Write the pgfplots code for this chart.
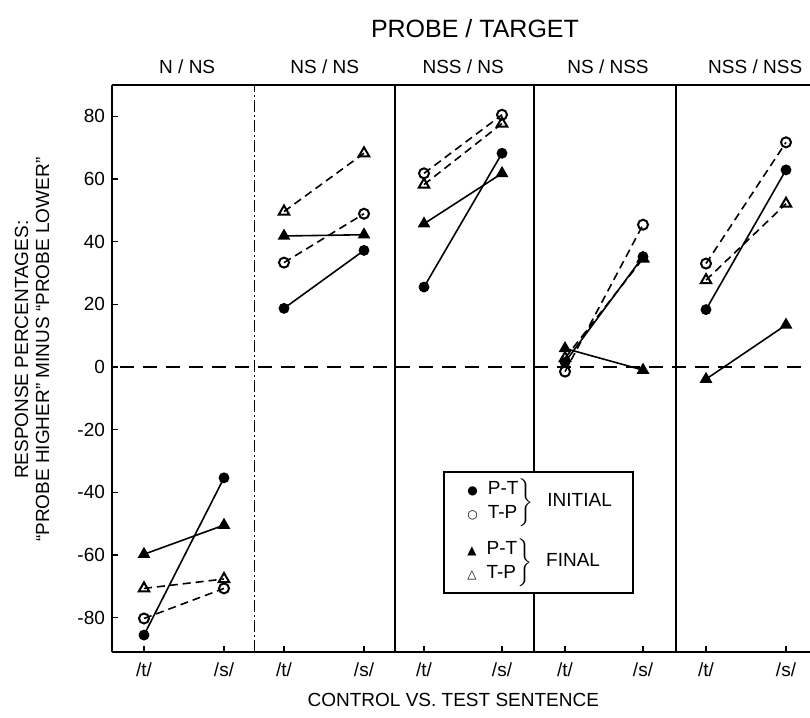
\documentclass[border=0pt]{standalone}
\usepackage{fontspec}
\setmainfont{Liberation Sans}
\newfontfamily\symfont{DejaVu Sans}
\usepackage{pgfplots}
\pgfplotsset{compat=1.18}

% one brace group of the legend
\newcommand{\leggroup}[3]{%
  $\left.\begin{tabular}{@{}l@{\hspace{5pt}}l@{}}{\symfont\fontsize{6}{7}\selectfont #1}&P-T\\[1pt]{\symfont\fontsize{6}{7}\selectfont #2}&T-P\end{tabular}\right\}$\hspace{7pt}#3}

\begin{document}
\begin{tikzpicture}
\begin{axis}[
  name=ax,
  scale only axis,
  width=349pt, height=283.5pt,
  xmin=-0.4, xmax=8.325,
  ymin=-91, ymax=90,
  axis x line=box, axis y line=left,
  axis line style={-, line width=0.9pt},
  clip=false,
  unbounded coords=jump,
  tick align=inside,
  xtick pos=left, ytick pos=left,
  major tick length=3pt,
  tick style={line width=0.7pt, black},
  xtick={0,1,1.75,2.75,3.5,4.475,5.2625,6.2375,7.025,8.025},
  xticklabels={/t/,/s/,/t/,/s/,/t/,/s/,/t/,/s/,/t/,/s/},
  ytick={-80,-60,-40,-20,0,20,40,60,80},
  yticklabels={-80,-60,-40,-20,0,20,40,60,80},
  ticklabel style={font=\fontsize{9.5}{10}\selectfont},
  xticklabel style={yshift=-2pt},
  title={PROBE / TARGET},
  title style={at={(0.52,1)}, anchor=center, yshift=22pt, font=\fontsize{12.5}{14}\selectfont},
  xlabel={CONTROL VS. TEST SENTENCE},
  xlabel style={at={(0.489,0)}, anchor=center, yshift=-24pt, font=\fontsize{9.5}{11}\selectfont},
  ylabel={RESPONSE PERCENTAGES:\\``PROBE HIGHER'' MINUS ``PROBE LOWER''},
  ylabel style={at={(-0.1146,0.533)}, anchor=center, align=center, font=\fontsize{9.5}{10.5}\selectfont},
]

% panel separators and zero line
\draw[line width=0.5pt, dash pattern=on 6pt off 1.5pt on 1pt off 1.5pt] (axis cs:1.375,-91) -- (axis cs:1.375,90);
\draw[line width=0.8pt] (axis cs:3.1375,-91) -- (axis cs:3.1375,90);
\draw[line width=0.8pt] (axis cs:4.875,-91) -- (axis cs:4.875,90);
\draw[line width=0.8pt] (axis cs:6.65,-91) -- (axis cs:6.65,90);
\draw[line width=0.9pt, dash pattern=on 7pt off 4.5pt] (axis cs:-0.3,0) -- (axis cs:8.325,0);

% P-T initial
\addplot[black, line width=0.8pt, mark=*, mark size=2.3pt] coordinates {
  (0,-85.6) (1,-35.4) (1.375,nan)
  (1.75,18.7) (2.75,37.2) (3.1375,nan)
  (3.5,25.5) (4.475,68.2) (4.875,nan)
  (5.2625,1.5) (6.2375,35.2) (6.65,nan)
  (7.025,18.3) (8.025,62.9)
};
% T-P initial
\addplot[black, line width=0.8pt, dash pattern=on 4pt off 2.5pt, mark=o, mark size=2.5pt,
  mark options={solid, fill=white, line width=1pt}] coordinates {
  (0,-80.3) (1,-70.7) (1.375,nan)
  (1.75,33.3) (2.75,48.9) (3.1375,nan)
  (3.5,61.8) (4.475,80.5) (4.875,nan)
  (5.2625,-1.5) (6.2375,45.4) (6.65,nan)
  (7.025,33.0) (8.025,71.7)
};
% P-T final
\addplot[black, line width=0.8pt, mark=triangle*, mark size=2.9pt] coordinates {
  (0,-59.8) (1,-50.5) (1.375,nan)
  (1.75,41.8) (2.75,42.2) (3.1375,nan)
  (3.5,45.7) (4.475,61.8) (4.875,nan)
  (5.2625,5.9) (6.2375,-1.0) (6.65,nan)
  (7.025,-3.9) (8.025,13.4)
};
% T-P final
\addplot[black, line width=0.8pt, dash pattern=on 4pt off 2.5pt, mark=triangle, mark size=3pt,
  mark options={solid, fill=white, line width=1pt}] coordinates {
  (0,-70.7) (1,-67.7) (1.375,nan)
  (1.75,49.6) (2.75,68.2) (3.1375,nan)
  (3.5,58.2) (4.475,77.7) (4.875,nan)
  (5.2625,2.8) (6.2375,34.6) (6.65,nan)
  (7.025,27.7) (8.025,52.1)
};

% panel headings
\node[font=\fontsize{9.5}{11}\selectfont] at (axis cs:0.54,90) [yshift=9pt] {N / NS};
\node[font=\fontsize{9.5}{11}\selectfont] at (axis cs:2.26,90) [yshift=9pt] {NS / NS};
\node[font=\fontsize{9.5}{11}\selectfont] at (axis cs:3.99,90) [yshift=9pt] {NSS / NS};
\node[font=\fontsize{9.5}{11}\selectfont] at (axis cs:5.8,90) [yshift=9pt] {NS / NSS};
\node[font=\fontsize{9.5}{11}\selectfont] at (axis cs:7.64,90) [yshift=9pt] {NSS / NSS};

% legend
\node[draw, fill=white, line width=0.9pt, minimum width=94.5pt, minimum height=60.5pt,
  font=\fontsize{9.5}{11}\selectfont, align=left] at (axis cs:4.93,-52.8) {%
  \leggroup{●}{○}{INITIAL}\\[5pt]\leggroup{▲}{△}{FINAL}};
\end{axis}
\pgfresetboundingbox
\path ([xshift=-56pt,yshift=-33pt]ax.south west) rectangle ([yshift=42.5pt]ax.north east);
\end{tikzpicture}
\end{document}
